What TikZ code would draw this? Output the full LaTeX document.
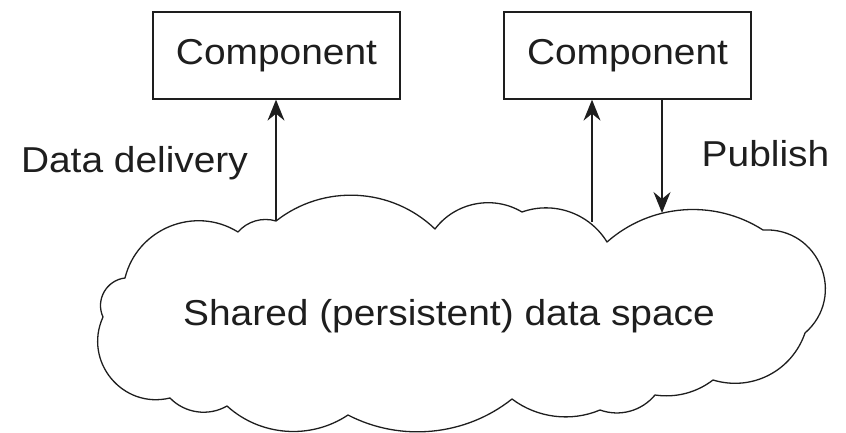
\documentclass[tikz,border=0pt]{standalone}
\usepackage{fontspec}
\setmainfont{Liberation Sans}[FakeStretch=1.08]
\usetikzlibrary{arrows.meta}
\definecolor{ink}{HTML}{1E1E1E}
\tikzset{
  compbox/.style={draw=ink, line width=1.3pt, minimum width=247pt, minimum height=87pt, inner sep=0pt, text=ink},
  lbl/.style={text=ink, inner sep=0pt, anchor=base},
  flow/.style={draw=ink, line width=1.4pt, -{Stealth[length=21pt,width=17pt,inset=7pt]}},
  cloudline/.style={draw=ink, line width=1.3pt, line join=round},
}
\begin{document}
\begin{tikzpicture}[x=1pt, y=-1pt, font=\fontsize{36}{40}\selectfont]
\useasboundingbox (0,0) rectangle (846,433);

% components
\node[compbox] (compL) at (276.5,55.5) {Component};
\node[compbox] (compR) at (627.5,55.5) {Component};

% shared data space outline, lobe by lobe (clockwise)
\coordinate (inL)  at (276,221);
\coordinate (inR)  at (592,222);
\coordinate (pub)  at (662,213);
\draw[cloudline]
  (276,221) to[bend left=41, looseness=0.97] (435,229)
  to[bend left=42, looseness=0.97] (522,212)
  to[bend left=39, looseness=0.96] (607,242)
  to[bend left=37, looseness=0.95] (763,230)
  to[bend left=71, looseness=1.29] (805,333)
  to[bend left=44, looseness=1.0]  (713,380)
  to[bend left=23, looseness=0.89] (655,395)
  to[bend left=35, looseness=0.94] (600,410)
  to[bend left=30, looseness=0.91] (512,399)
  to[bend left=33, looseness=0.92] (348,415)
  to[bend left=38, looseness=0.95] (227,406)
  to[bend left=38, looseness=0.95] (170,398)
  to[bend left=64, looseness=1.19] (103,317)
  to[bend left=54, looseness=1.07] (125,278)
  to[bend left=54, looseness=1.07] (238,232)
  to[bend left=33, looseness=0.92] (276,221)
  -- cycle;

\node[lbl] (space) at (449,325) {Shared (persistent) data space};

% labels
\node[lbl] (deliv) at (134.5,172) {Data delivery};
\node[lbl] (publ)  at (765.5,166) {Publish};

% data flows
\draw[flow] (inL) -- (inL |- compL.south);
\draw[flow] (inR) -- (inR |- compR.south);
\draw[flow] (pub |- compR.south) -- (pub);
\end{tikzpicture}
\end{document}
